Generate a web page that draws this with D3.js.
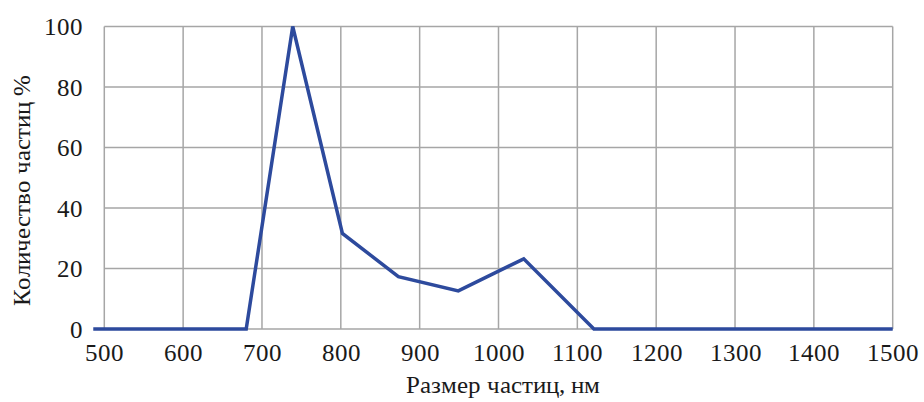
<!DOCTYPE html>
<html><head><meta charset="utf-8">
<script src="https://cdn.jsdelivr.net/npm/d3@7"></script>
<style>
@font-face{font-family:"RefSerif";src:local("Liberation Serif"),local("LiberationSerif"),local("Liberation Serif Regular"),local("LiberationSerif-Regular");}
body{margin:0;background:#fff}
.lbl{font-family:"RefSerif","Liberation Serif",serif;font-size:25px;fill:#1a1a1a}
</style>
</head><body>
<svg id="c" width="924" height="402"></svg>
<script>
const sizes = [486, 680, 739, 802, 873, 949, 1032, 1121, 1500];
const counts = [0, 0, 100, 31.6, 17.3, 12.6, 23.2, 0, 0];
const xTicks = [500, 600, 700, 800, 900, 1000, 1100, 1200, 1300, 1400, 1500];
const yTicks = [0, 20, 40, 60, 80, 100];
const xTitle = "Размер частиц, нм";
const yTitle = "Количество частиц %";

const svg = d3.select("#c");
const x = d3.scaleLinear().domain([500, 1500]).range([104.3, 892.7]);
const y = d3.scaleLinear().domain([0, 100]).range([329, 26.5]);

const grid = svg.append("g");
grid.selectAll("line.v").data(xTicks).join("line")
  .attr("x1", d => x(d)).attr("x2", d => x(d))
  .attr("y1", y(0)).attr("y2", y(100))
  .attr("stroke", "#a6a6a6").attr("stroke-width", 1.5);
grid.selectAll("line.h").data(yTicks).join("line")
  .attr("x1", x(500)).attr("x2", x(1500))
  .attr("y1", d => y(d)).attr("y2", d => y(d))
  .attr("stroke", "#a6a6a6").attr("stroke-width", 1.5);

const xAxis = svg.append("g").attr("transform", `translate(0,${y(0)})`)
  .call(d3.axisBottom(x).tickValues(xTicks).tickSize(0).tickPadding(14).tickFormat(d3.format("d")));
xAxis.select(".domain").remove();
xAxis.attr("font-family", null).attr("font-size", null);
xAxis.selectAll("text").attr("class", "lbl").attr("fill", null);

const yAxis = svg.append("g").attr("transform", `translate(${x(500)},0)`)
  .call(d3.axisLeft(y).tickValues(yTicks).tickSize(0).tickPadding(21).tickFormat(d3.format("d")));
yAxis.select(".domain").remove();
yAxis.attr("font-family", null).attr("font-size", null);
yAxis.selectAll("text").attr("class", "lbl").attr("fill", null);

const line = d3.line().x(d => x(d[0])).y(d => y(d[1]));
svg.append("path").datum(sizes.map((s, i) => [s, counts[i]]))
  .attr("d", line).attr("fill", "none").attr("stroke", "#2d4a9d")
  .attr("stroke-width", 3.5).attr("stroke-linejoin", "miter");

svg.append("text").attr("class", "lbl").attr("x", 503).attr("y", 393).attr("text-anchor", "middle").text(xTitle);
svg.append("text").attr("class", "lbl").attr("transform", "translate(30,190) rotate(-90)").attr("text-anchor", "middle").text(yTitle);
</script>
</body></html>
